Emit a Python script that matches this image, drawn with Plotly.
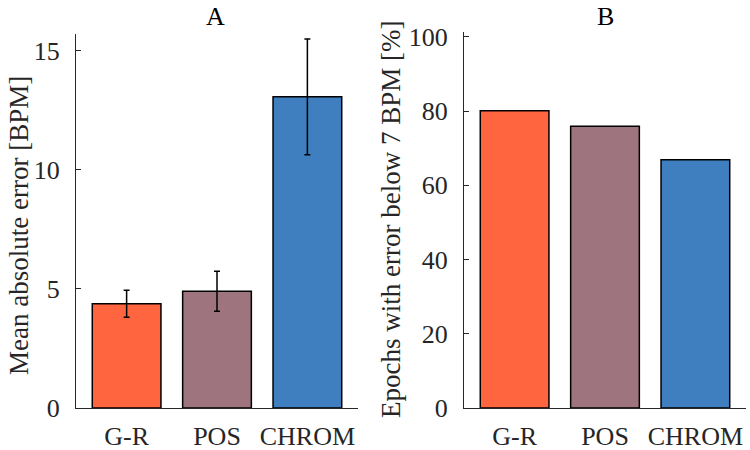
import plotly.graph_objects as go

methods = ["G-R", "POS", "CHROM"]
mae = [4.38, 4.90, 13.07]
mae_err = [0.57, 0.84, 2.43]
below7 = [80.1, 75.9, 66.9]
colors = ["#FF6640", "#9E747F", "#3F7FBF"]

FONT = "Liberation Serif"
AX = "#262626"

fig = go.Figure()
fig.add_trace(go.Bar(
    x=methods, y=mae, marker=dict(color=colors, line=dict(color="black", width=1.5)),
    width=0.76,
    error_y=dict(type="data", array=mae_err, color="black", thickness=1.5, width=3),
    xaxis="x", yaxis="y", showlegend=False))
fig.add_trace(go.Bar(
    x=methods, y=below7, marker=dict(color=colors, line=dict(color="black", width=1.5)),
    width=0.76, xaxis="x2", yaxis="y2", showlegend=False))

axcommon = dict(showline=True, linecolor=AX, linewidth=1, showgrid=False, zeroline=False,
                automargin=False, tickfont=dict(family=FONT, size=26, color=AX))
ybot = 1 - 408 / 450
ytop = 1 - 34 / 450
fig.update_layout(
    width=750, height=450, margin=dict(l=0, r=0, t=0, b=0, autoexpand=False),
    paper_bgcolor="white", plot_bgcolor="white",
    font=dict(family=FONT),
    xaxis=dict(domain=[76 / 750, 358 / 750], range=[-0.56, 2.56], ticks="", anchor="y",
               ticklabelstandoff=5, **axcommon),
    yaxis=dict(domain=[ybot, ytop], range=[0, 15.71], tickvals=[0, 5, 10, 15],
               ticks="inside", ticklen=5, tickcolor=AX, anchor="x", ticklabelstandoff=10, **axcommon),
    xaxis2=dict(domain=[464 / 750, 746 / 750], range=[-0.56, 2.56], ticks="", anchor="y2",
                ticklabelstandoff=5, **axcommon),
    yaxis2=dict(domain=[ybot, 1 - 32 / 450], range=[0, 101.3], tickvals=[0, 20, 40, 60, 80, 100],
                ticks="inside", ticklen=5, tickcolor=AX, anchor="x2", ticklabelstandoff=10, **axcommon),
)

labels = [
    ("A", 216, 16, 0, "black", 26),
    ("B", 605, 16, 0, "black", 26),
    ("Mean absolute error [BPM]", 19, 226, -90, AX, 27),
    ("Epochs with error below 7 BPM [%]", 391, 220, -90, AX, 27),
]
for text, px, py, ang, col, fs in labels:
    fig.add_annotation(text=text, x=px / 750, y=1 - py / 450, xref="paper", yref="paper",
                       xanchor="center", yanchor="middle", textangle=ang, showarrow=False,
                       font=dict(family=FONT, size=fs, color=col))
fig.write_html("out.html", config={"displayModeBar": False},
               post_script="document.body.style.margin='0';")
